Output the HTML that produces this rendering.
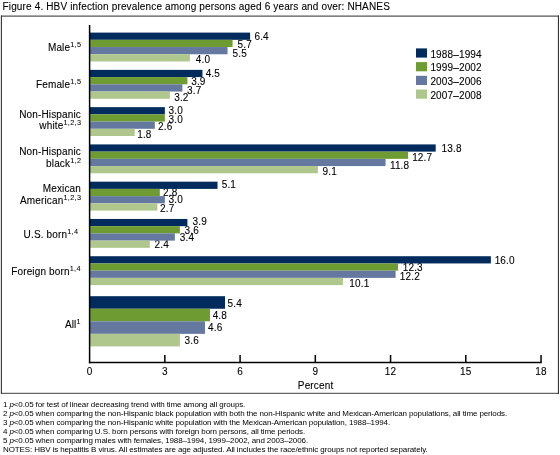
<!DOCTYPE html>
<html><head><meta charset="utf-8"><style>
html,body{margin:0;padding:0;background:#fff;width:560px;height:455px;overflow:hidden}
svg{display:block;will-change:transform}
text{font-family:"Liberation Sans",sans-serif;fill:#000;stroke:#000;stroke-width:0.1px;letter-spacing:0.15px}
</style></head><body>
<svg width="560" height="455" viewBox="0 0 560 455">
<text x="2.5" y="9.8" font-size="10">Figure 4. HBV infection prevalence among persons aged 6 years and over: NHANES</text>
<line x1="1" y1="16.2" x2="559" y2="16.2" stroke="#555" stroke-width="1.2"/>
<line x1="1" y1="393.3" x2="559" y2="393.3" stroke="#666" stroke-width="1.3"/>
<line x1="1.4" y1="15.6" x2="1.4" y2="394" stroke="#333" stroke-width="1.1"/>
<line x1="558.45" y1="15.6" x2="558.45" y2="394" stroke="#333" stroke-width="1.1"/>
<text x="254.49" y="40" font-size="10">6.4</text>
<text x="237.50" y="48" font-size="10">5.7</text>
<text x="232.50" y="57" font-size="10">5.5</text>
<text x="195.87" y="63" font-size="10">4.0</text>
<text x="205.67" y="77" font-size="10">4.5</text>
<text x="191.22" y="85" font-size="10">3.9</text>
<text x="187.12" y="94" font-size="10">3.7</text>
<text x="174.22" y="101" font-size="10">3.2</text>
<text x="168.52" y="114" font-size="10">3.0</text>
<text x="168.52" y="123" font-size="10">3.0</text>
<text x="158.10" y="130" font-size="10">2.6</text>
<text x="137.24" y="138" font-size="10">1.8</text>
<text x="441.54" y="152" font-size="10">13.8</text>
<text x="412.14" y="161" font-size="10">12.7</text>
<text x="389.94" y="169" font-size="10">11.8</text>
<text x="322.53" y="175" font-size="10">9.1</text>
<text x="221.70" y="188" font-size="10">5.1</text>
<text x="163.10" y="196" font-size="10">2.8</text>
<text x="168.52" y="203" font-size="10">3.0</text>
<text x="160.00" y="212" font-size="10">2.7</text>
<text x="192.52" y="225" font-size="10">3.9</text>
<text x="184.62" y="234" font-size="10">3.6</text>
<text x="179.82" y="241" font-size="10">3.4</text>
<text x="154.50" y="248" font-size="10">2.4</text>
<text x="494.64" y="264" font-size="10">16.0</text>
<text x="402.74" y="271" font-size="10">12.3</text>
<text x="399.84" y="280" font-size="10">12.2</text>
<text x="349.34" y="287" font-size="10">10.1</text>
<text x="227.50" y="307" font-size="10">5.4</text>
<text x="212.67" y="319" font-size="10">4.8</text>
<text x="208.07" y="331" font-size="10">4.6</text>
<text x="184.62" y="344" font-size="10">3.6</text>
<rect x="89.6" y="32.60" width="160.51" height="7.22" fill="#002b5c"/>
<rect x="89.6" y="39.82" width="142.96" height="7.22" fill="#6e9c32"/>
<rect x="89.6" y="47.04" width="137.94" height="7.22" fill="#6578a0"/>
<rect x="89.6" y="54.26" width="100.32" height="7.22" fill="#afc78c"/>
<rect x="89.6" y="69.87" width="112.86" height="7.22" fill="#002b5c"/>
<rect x="89.6" y="77.09" width="97.81" height="7.22" fill="#6e9c32"/>
<rect x="89.6" y="84.31" width="92.80" height="7.22" fill="#6578a0"/>
<rect x="89.6" y="91.53" width="80.26" height="7.22" fill="#afc78c"/>
<rect x="89.6" y="107.14" width="75.24" height="7.22" fill="#002b5c"/>
<rect x="89.6" y="114.36" width="75.24" height="7.22" fill="#6e9c32"/>
<rect x="89.6" y="121.58" width="65.21" height="7.22" fill="#6578a0"/>
<rect x="89.6" y="128.80" width="45.14" height="7.22" fill="#afc78c"/>
<rect x="89.6" y="144.41" width="346.10" height="7.22" fill="#002b5c"/>
<rect x="89.6" y="151.63" width="318.52" height="7.22" fill="#6e9c32"/>
<rect x="89.6" y="158.85" width="295.94" height="7.22" fill="#6578a0"/>
<rect x="89.6" y="166.07" width="228.23" height="7.22" fill="#afc78c"/>
<rect x="89.6" y="181.68" width="127.91" height="7.22" fill="#002b5c"/>
<rect x="89.6" y="188.90" width="70.22" height="7.22" fill="#6e9c32"/>
<rect x="89.6" y="196.12" width="75.24" height="7.22" fill="#6578a0"/>
<rect x="89.6" y="203.34" width="67.72" height="7.22" fill="#afc78c"/>
<rect x="89.6" y="218.95" width="97.81" height="7.22" fill="#002b5c"/>
<rect x="89.6" y="226.17" width="90.29" height="7.22" fill="#6e9c32"/>
<rect x="89.6" y="233.39" width="85.27" height="7.22" fill="#6578a0"/>
<rect x="89.6" y="240.61" width="60.19" height="7.22" fill="#afc78c"/>
<rect x="89.6" y="256.22" width="401.28" height="7.22" fill="#002b5c"/>
<rect x="89.6" y="263.44" width="308.48" height="7.22" fill="#6e9c32"/>
<rect x="89.6" y="270.66" width="305.98" height="7.22" fill="#6578a0"/>
<rect x="89.6" y="277.88" width="253.31" height="7.22" fill="#afc78c"/>
<rect x="89.6" y="296.20" width="135.43" height="12.55" fill="#002b5c"/>
<rect x="89.6" y="308.75" width="120.38" height="12.55" fill="#6e9c32"/>
<rect x="89.6" y="321.30" width="115.37" height="12.55" fill="#6578a0"/>
<rect x="89.6" y="333.85" width="90.29" height="12.55" fill="#afc78c"/>
<line x1="89.6" y1="25" x2="89.6" y2="363.25" stroke="#000" stroke-width="1.5"/>
<line x1="88.85" y1="362.5" x2="541.79" y2="362.5" stroke="#000" stroke-width="1.5"/>
<line x1="164.84" y1="355" x2="164.84" y2="362.5" stroke="#000" stroke-width="1.5"/>
<line x1="240.08" y1="355" x2="240.08" y2="362.5" stroke="#000" stroke-width="1.5"/>
<line x1="315.32" y1="355" x2="315.32" y2="362.5" stroke="#000" stroke-width="1.5"/>
<line x1="390.56" y1="355" x2="390.56" y2="362.5" stroke="#000" stroke-width="1.5"/>
<line x1="465.80" y1="355" x2="465.80" y2="362.5" stroke="#000" stroke-width="1.5"/>
<line x1="541.04" y1="355" x2="541.04" y2="362.5" stroke="#000" stroke-width="1.5"/>
<text x="89.60" y="374.5" font-size="10" text-anchor="middle">0</text>
<text x="164.84" y="374.5" font-size="10" text-anchor="middle">3</text>
<text x="240.08" y="374.5" font-size="10" text-anchor="middle">6</text>
<text x="315.32" y="374.5" font-size="10" text-anchor="middle">9</text>
<text x="390.56" y="374.5" font-size="10" text-anchor="middle">12</text>
<text x="465.80" y="374.5" font-size="10" text-anchor="middle">15</text>
<text x="541.04" y="374.5" font-size="10" text-anchor="middle">18</text>
<text x="315.6" y="388.6" font-size="10" text-anchor="middle">Percent</text>
<text x="81.4" y="51" font-size="10" text-anchor="end">Male<tspan font-size="7.3" dy="-4.5" style="stroke-width:0.05px;letter-spacing:0.35px">1,5</tspan></text>
<text x="81.4" y="88" font-size="10" text-anchor="end">Female<tspan font-size="7.3" dy="-4.5" style="stroke-width:0.05px;letter-spacing:0.35px">1,5</tspan></text>
<text x="81" y="118" font-size="10" text-anchor="end">Non-Hispanic</text>
<text x="81.4" y="129" font-size="10" text-anchor="end">white<tspan font-size="7.3" dy="-4.5" style="stroke-width:0.05px;letter-spacing:0.35px">1,2,3</tspan></text>
<text x="81" y="155" font-size="10" text-anchor="end">Non-Hispanic</text>
<text x="81.4" y="167" font-size="10" text-anchor="end">black<tspan font-size="7.3" dy="-4.5" style="stroke-width:0.05px;letter-spacing:0.35px">1,2</tspan></text>
<text x="81" y="192" font-size="10" text-anchor="end">Mexican</text>
<text x="81.4" y="204" font-size="10" text-anchor="end">American<tspan font-size="7.3" dy="-4.5" style="stroke-width:0.05px;letter-spacing:0.35px">1,2,3</tspan></text>
<text x="78.4" y="238" font-size="10" text-anchor="end">U.S. born<tspan font-size="7.3" dy="-4.5" style="stroke-width:0.05px;letter-spacing:0.35px">1,4</tspan></text>
<text x="80.9" y="275" font-size="10" text-anchor="end">Foreign born<tspan font-size="7.3" dy="-4.5" style="stroke-width:0.05px;letter-spacing:0.35px">1,4</tspan></text>
<text x="80.9" y="328" font-size="10" text-anchor="end">All<tspan font-size="7.3" dy="-4.5" style="stroke-width:0.05px;letter-spacing:0.35px">1</tspan></text>
<rect x="416" y="48.40" width="11" height="9.2" fill="#002b5c"/>
<text x="430.4" y="57.70" font-size="10">1988–1994</text>
<rect x="416" y="62.10" width="11" height="9.2" fill="#6e9c32"/>
<text x="430.4" y="71.40" font-size="10">1999–2002</text>
<rect x="416" y="75.80" width="11" height="9.2" fill="#6578a0"/>
<text x="430.4" y="85.10" font-size="10">2003–2006</text>
<rect x="416" y="89.50" width="11" height="9.2" fill="#afc78c"/>
<text x="430.4" y="98.80" font-size="10">2007–2008</text>
<text x="3" y="407.20" font-size="8" style="letter-spacing:-0.11px;stroke-width:0px">1 <tspan font-style="italic">p</tspan>&lt;0.05 for test of linear decreasing trend with time among all groups.</text>
<text x="3" y="416.12" font-size="8" style="letter-spacing:-0.11px;stroke-width:0px">2 <tspan font-style="italic">p</tspan>&lt;0.05 when comparing the non-Hispanic black population with both the non-Hispanic white and Mexican-American populations, all time periods.</text>
<text x="3" y="425.04" font-size="8" style="letter-spacing:-0.11px;stroke-width:0px">3 <tspan font-style="italic">p</tspan>&lt;0.05 when comparing the non-Hispanic white population with the Mexican-American population, 1988–1994.</text>
<text x="3" y="433.96" font-size="8" style="letter-spacing:-0.11px;stroke-width:0px">4 <tspan font-style="italic">p</tspan>&lt;0.05 when comparing U.S. born persons with foreign born persons, all time periods.</text>
<text x="3" y="442.88" font-size="8" style="letter-spacing:-0.11px;stroke-width:0px">5 <tspan font-style="italic">p</tspan>&lt;0.05 when comparing males with females, 1988–1994, 1999–2002, and 2003–2006.</text>
<text x="3" y="451.80" font-size="8" style="letter-spacing:-0.11px;stroke-width:0px">NOTES: HBV is hepatitis B virus. All estimates are age adjusted. All includes the race/ethnic groups not reported separately.</text>
</svg>
</body></html>
